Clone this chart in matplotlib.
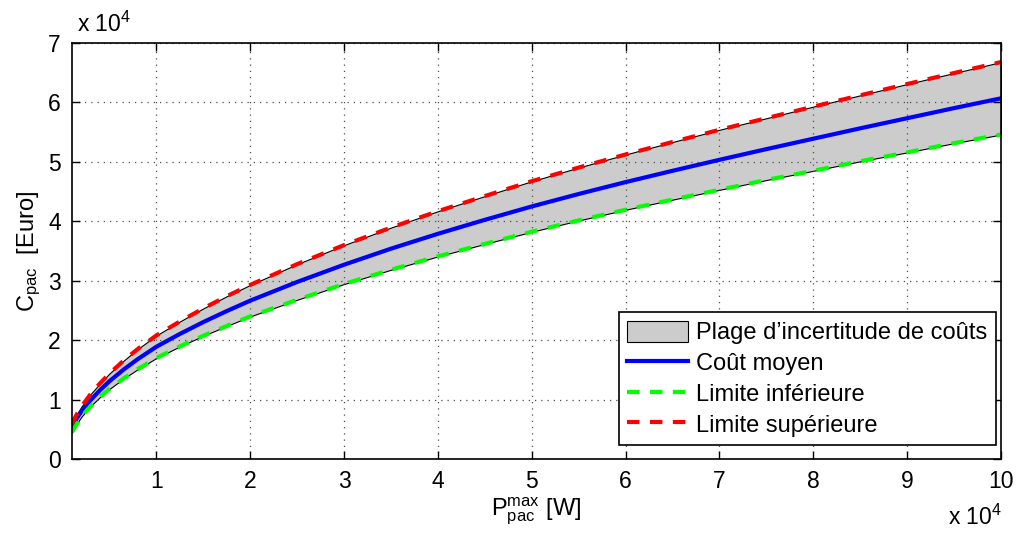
import matplotlib
matplotlib.use('Agg')
import matplotlib.pyplot as plt
from matplotlib.ticker import FuncFormatter

plt.rcParams['font.family'] = ['Liberation Sans', 'DejaVu Sans']
plt.rcParams['mathtext.fontset'] = 'custom'
plt.rcParams['mathtext.rm'] = 'Liberation Sans'
plt.rcParams['mathtext.it'] = 'Liberation Sans'

# puissance max de la pile (W) et couts (Euro)
p_max = [1000, 1500, 2000, 3000, 4000, 5000, 6500, 8000, 10000, 12500, 15000,
         17500, 20000, 25000, 30000, 35000, 40000, 45000, 50000, 55000, 60000,
         65000, 70000, 75000, 80000, 85000, 90000, 95000, 100000]
cout_moyen = [5300, 6800, 8000, 9950, 11600, 13100, 15050, 16800, 18900, 21050,
              23050, 24900, 26650, 29800, 32700, 35400, 37900, 40250, 42500,
              44600, 46600, 48500, 50350, 52150, 53900, 55650, 57350, 59050, 60700]
lim_inf = [4500, 5900, 7100, 8950, 10450, 11800, 13550, 15100, 17000, 18950,
           20750, 22400, 24000, 26800, 29450, 31850, 34100, 36200, 38250,
           40150, 41950, 43650, 45300, 46950, 48500, 50100, 51600, 53150, 54600]
lim_sup = [5900, 7500, 8800, 10950, 12750, 14400, 16550, 18500, 20800, 23150,
           25350, 27400, 29300, 32800, 36000, 38950, 41700, 44250, 46750,
           49050, 51250, 53350, 55400, 57350, 59300, 61200, 63100, 64950, 66800]

fig = plt.figure(figsize=(10.18, 5.38), dpi=100)
ax = fig.add_axes([0.0707, 0.1468, 0.9126, 0.7732])

ax.fill_between(p_max, lim_inf, lim_sup, facecolor=(0.8, 0.8, 0.8),
                edgecolor='black', linewidth=0.8,
                label="Plage d\u2019incertitude de co\u00fbts")
ax.plot(p_max, cout_moyen, color='blue', lw=3, label='Co\u00fbt moyen')
ax.plot(p_max, lim_inf, color=(0, 1, 0), lw=3, ls=(0, (3, 2.5)),
        label='Limite inf\u00e9rieure')
ax.plot(p_max, lim_sup, color='red', lw=3, ls=(0, (3, 2.5)),
        label='Limite sup\u00e9rieure')

ax.set_xlim(1000, 100000)
ax.set_ylim(0, 70000)
ax.set_xticks([10000 * i for i in range(1, 11)])
ax.set_yticks([10000 * i for i in range(0, 8)])
fmt = FuncFormatter(lambda v, pos: '%g' % (v / 1e4))
ax.xaxis.set_major_formatter(fmt)
ax.yaxis.set_major_formatter(fmt)
ax.tick_params(direction='in', top=True, right=True, labelsize=16.5,
               length=6, width=1, pad=8)
for s in ax.spines.values():
    s.set_linewidth(1.2)
ax.grid(True, ls=(0, (1, 4)), color='0.3', lw=0.9)

ax.text(0.005, 1.015, r'x 10$^{4}$', transform=ax.transAxes, fontsize=16.5,
        ha='left', va='bottom')
fig.text(0.931, 0.015, r'x 10$^{4}$', fontsize=16.5, ha='left', va='bottom')

ax.set_xlabel(r'P$^{\rm max}_{\rm pac}$ [W]', fontsize=17, labelpad=2)
ax.set_ylabel(r'C$_{\rm pac}$  [Euro]', fontsize=17, labelpad=4)

leg = ax.legend(loc='lower right', bbox_to_anchor=(0.9946, 0.034),
                fontsize=17, fancybox=False,
                edgecolor='black', framealpha=1, handlelength=2.6,
                handleheight=1.0, borderpad=0.35, labelspacing=0.3,
                handletextpad=0.35, borderaxespad=0)
leg.get_frame().set_linewidth(1.2)

fig.savefig('out.png', dpi=100)
